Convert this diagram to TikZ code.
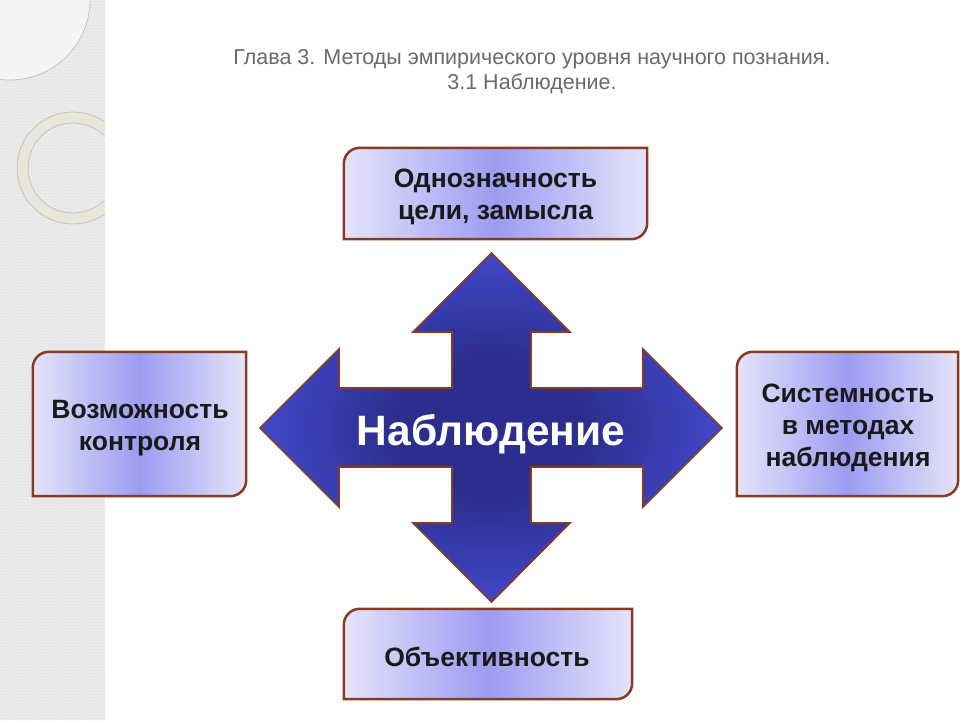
\documentclass[tikz,border=0pt]{standalone}
\usepackage{fontspec}
\setmainfont{Liberation Sans}
\usetikzlibrary{backgrounds,patterns}
\definecolor{bordbrown}{HTML}{8B3A22}
\definecolor{lav}{HTML}{E4E4FA}
\definecolor{lavmid}{HTML}{9C9CF2}
\definecolor{cdark}{HTML}{2B2E8C}
\definecolor{clight}{HTML}{4D53E6}
\definecolor{titlegray}{HTML}{6A6A6A}
\definecolor{stripgray}{HTML}{ECECEC}
\definecolor{ringfill}{HTML}{E9E6DC}
\definecolor{ringline}{HTML}{C4C4C0}
\pgfdeclareradialshading{crossshade}{\pgfpoint{0bp}{0bp}}{color(0bp)=(cdark); color(10bp)=(cdark); color(32bp)=(clight); color(50bp)=(clight)}
\tikzset{
  boxtext/.style={align=center, text=black!90, font=\fontsize{26.5}{32}\selectfont\bfseries, inner sep=0pt},
  boxshape/.style={draw=bordbrown, line width=2.5pt, left color=lav, right color=lav, middle color=lavmid},
  crossshape/.style={draw=bordbrown, line width=1.6pt, shading=crossshade},
  titletext/.style={text=titlegray, font=\fontsize{21.5}{25}\selectfont, align=center}
}
\newcommand\decobox[1]{%
  \path[boxshape] (#1.west) [rounded corners=16pt] -- (#1.north west) -- (#1.north) [sharp corners] -- (#1.north east) -- (#1.east) [rounded corners=16pt] -- (#1.south east) -- (#1.south) [sharp corners] -- (#1.south west) -- cycle;}
\begin{document}
\begin{tikzpicture}[x=1pt,y=-1pt]
\useasboundingbox (0,0) rectangle (960,720);
\fill[white] (0,0) rectangle (960,720);
% left decorative strip
\fill[stripgray] (0,0) rectangle (105,720);
\fill[pattern=crosshatch dots, pattern color=gray!30] (0,0) rectangle (105,720);
\begin{scope}
\clip (0,0) rectangle (105,720);
\draw[ringline, fill=white, fill opacity=0.55, line width=0.8pt] (10,0) circle[radius=80];
\draw[ringline, fill=ringfill, line width=0.8pt, even odd rule] (73,168) circle[radius=56] (73,168) circle[radius=45];
\end{scope}
% title
\node[titletext] (title) at (532,72) {Глава 3. Методы эмпирического уровня научного познания.\\3.1 Наблюдение.};
% central cross
\path[crossshape] (491.5,253) -- (570,332) -- (531,332) -- (531,388) -- (643,388) -- (643,349) -- (722,428) -- (643,507) -- (643,467) -- (531,467) -- (531,523) -- (570,523) -- (491.5,602) -- (413,523) -- (452,523) -- (452,467) -- (339,467) -- (339,507) -- (260,428) -- (339,349) -- (339,388) -- (452,388) -- (452,332) -- (413,332) -- cycle;
\node[text=white, font=\fontsize{42.5}{42}\selectfont\bfseries, anchor=base, inner sep=0pt] (obs) at (491,445) {Наблюдение};
% boxes
\node[minimum width=303pt, minimum height=91pt, inner sep=0pt] (top) at (495.5,193.5) {};
\node[minimum width=213pt, minimum height=144pt, inner sep=0pt] (left) at (139.5,424) {};
\node[minimum width=221pt, minimum height=144pt, inner sep=0pt] (right) at (847.5,424) {};
\node[minimum width=288pt, minimum height=90pt, inner sep=0pt] (bottom) at (488,654) {};
\decobox{top}
\decobox{left}
\decobox{right}
\decobox{bottom}
\node[boxtext] (toptext) at (495.5,196.5) {Однозначность\\цели, замысла};
\node[boxtext] (lefttext) at (140,428) {Возможность\\контроля};
\node[boxtext] (righttext) at (848,427.5) {Системность\\в методах\\наблюдения};
\node[boxtext] (bottomtext) at (487,657) {Объективность};
\end{tikzpicture}
\end{document}
